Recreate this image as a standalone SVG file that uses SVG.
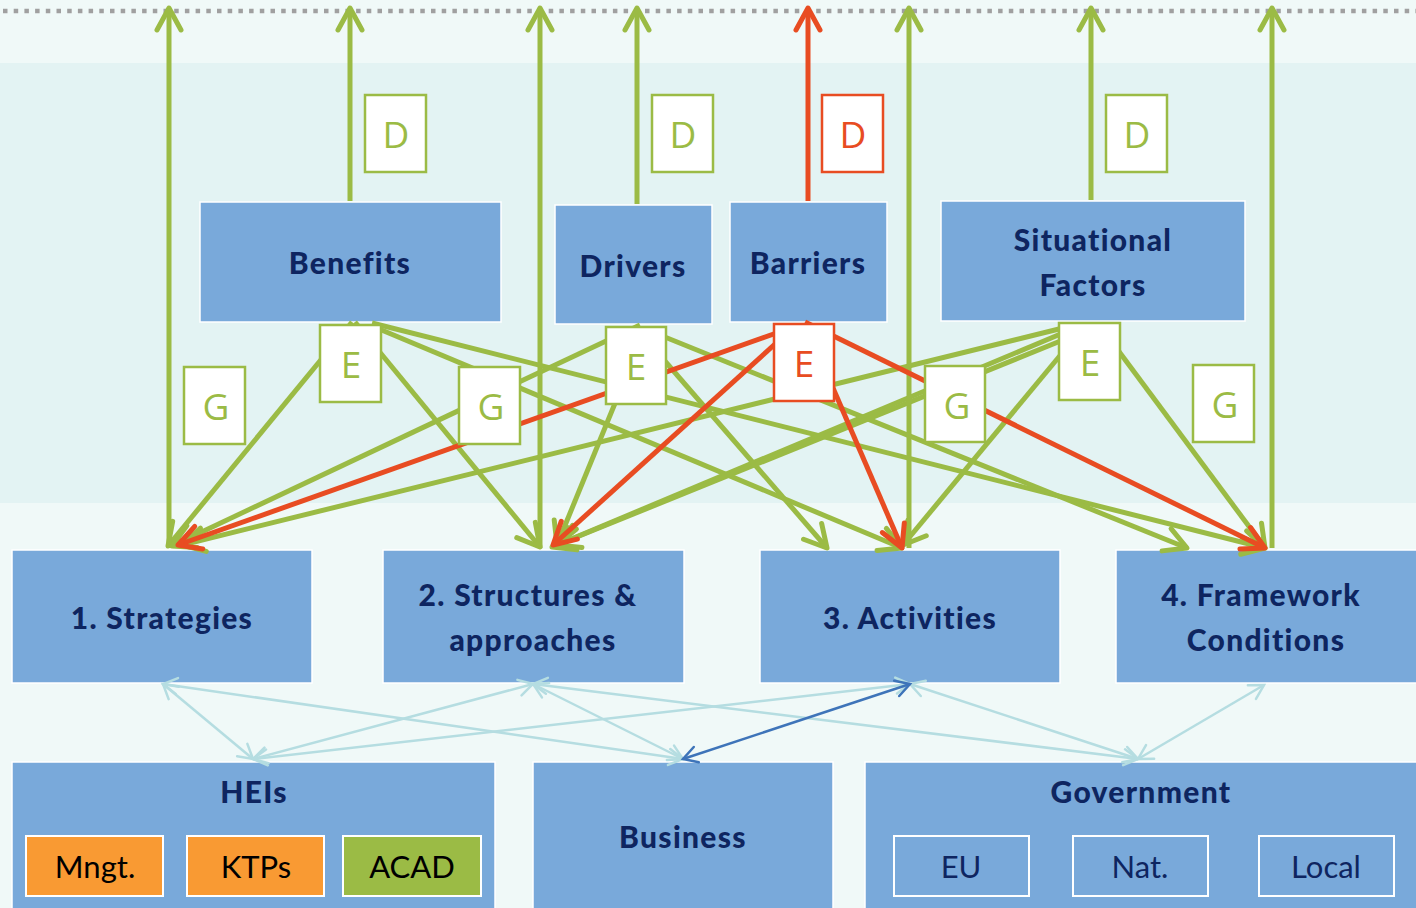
<svg xmlns="http://www.w3.org/2000/svg" width="1416" height="908" viewBox="0 0 1416 908">
<style>
.box{fill:#79a9da;stroke:#ffffff;stroke-width:1.5}
.lbl{font-family:Lato,"Open Sans","Liberation Sans",sans-serif;font-weight:900;font-size:30px;fill:#0e2560;text-anchor:middle;letter-spacing:1.3px}
.ltr{font-family:"Open Sans","Liberation Sans",sans-serif;font-size:37px;text-anchor:middle}
.lg{fill:#fff;stroke:#9bbb45;stroke-width:2.5}
.lr{fill:#fff;stroke:#e84c22;stroke-width:2.5}
.tg{fill:#9bbb45}
.tr{fill:#e84c22}
.sub{font-family:Lato,"Open Sans","Liberation Sans",sans-serif;font-size:31px;text-anchor:middle}
.g{stroke:#9bbb45;stroke-width:5;fill:none;marker-end:url(#mg)}
.r{stroke:#e84c22;stroke-width:5;fill:none;marker-end:url(#mr)}
.b{stroke:#b5dde1;stroke-width:2.5;fill:none;marker-end:url(#mb);marker-start:url(#mb)}
.d{stroke:#3e74b9;stroke-width:2.5;fill:none;marker-end:url(#md);marker-start:url(#md)}
</style>
<defs>
<marker id="mg" markerUnits="userSpaceOnUse" viewBox="-30 -20 40 40" markerWidth="40" markerHeight="40" refX="0" refY="0" orient="auto" overflow="visible"><path d="M-22,-12 L0,0 L-22,12" fill="none" stroke="#9bbb45" stroke-width="5" stroke-linecap="round" stroke-linejoin="round"/></marker>
<marker id="mr" markerUnits="userSpaceOnUse" viewBox="-30 -20 40 40" markerWidth="40" markerHeight="40" refX="0" refY="0" orient="auto" overflow="visible"><path d="M-22,-12 L0,0 L-22,12" fill="none" stroke="#e84c22" stroke-width="5" stroke-linecap="round" stroke-linejoin="round"/></marker>
<marker id="mb" markerUnits="userSpaceOnUse" viewBox="-20 -10 24 20" markerWidth="24" markerHeight="20" refX="0" refY="0" orient="auto-start-reverse" overflow="visible"><path d="M-14,-8 L0,0 L-14,8" fill="none" stroke="#b5dde1" stroke-width="2.5" stroke-linecap="round"/></marker>
<marker id="md" markerUnits="userSpaceOnUse" viewBox="-20 -10 24 20" markerWidth="24" markerHeight="20" refX="0" refY="0" orient="auto-start-reverse" overflow="visible"><path d="M-14,-8 L0,0 L-14,8" fill="none" stroke="#3e74b9" stroke-width="2.5" stroke-linecap="round"/></marker>
</defs>
<rect x="0" y="0" width="1416" height="908" fill="#f0f9f8"/>
<rect x="0" y="63" width="1416" height="440" fill="#e3f3f3"/>
<line x1="3" y1="11" x2="1416" y2="11" stroke="#a0a0a0" stroke-width="4.5" stroke-dasharray="4.5 6.2"/>

<g id="benefits"><rect class="box" x="200" y="202" width="301" height="120"/><text class="lbl" x="350" y="274">Benefits</text></g>
<g id="drivers"><rect class="box" x="555" y="205" width="157" height="119"/><text class="lbl" x="633" y="277">Drivers</text></g>
<g id="barriers"><rect class="box" x="730" y="202" width="157" height="120"/><text class="lbl" x="808" y="274">Barriers</text></g>
<g id="situational"><rect class="box" x="941" y="201" width="304" height="120"/><text class="lbl" x="1093" y="251">Situational</text><text class="lbl" x="1093" y="296">Factors</text></g>
<g id="strategies"><rect class="box" x="12" y="550" width="300" height="133"/><text class="lbl" x="162" y="629">1. Strategies</text></g>
<g id="structures"><rect class="box" x="383" y="550" width="301" height="133"/><text class="lbl" x="528" y="606">2. Structures &amp;</text><text class="lbl" x="533" y="651">approaches</text></g>
<g id="activities"><rect class="box" x="760" y="550" width="300" height="133"/><text class="lbl" x="910" y="629">3. Activities</text></g>
<g id="framework"><rect class="box" x="1116" y="550" width="302" height="133"/><text class="lbl" x="1261" y="606">4. Framework</text><text class="lbl" x="1266" y="651">Conditions</text></g>
<g id="heis"><rect class="box" x="12" y="762" width="483" height="148"/><text class="lbl" x="254" y="803">HEIs</text>
<rect x="26" y="836" width="137" height="60" fill="#f99a33" stroke="#fff" stroke-width="2"/><text class="sub" x="95" y="878" fill="#000">Mngt.</text>
<rect x="187" y="836" width="137" height="60" fill="#f99a33" stroke="#fff" stroke-width="2"/><text class="sub" x="256" y="878" fill="#000">KTPs</text>
<rect x="343" y="836" width="138" height="60" fill="#9bbb45" stroke="#fff" stroke-width="2"/><text class="sub" x="412" y="878" fill="#000">ACAD</text></g>
<g id="business"><rect class="box" x="533" y="762" width="300" height="148"/><text class="lbl" x="683" y="848">Business</text></g>
<g id="government"><rect class="box" x="865" y="762" width="553" height="148"/><text class="lbl" x="1141" y="803">Government</text>
<rect x="894" y="836" width="135" height="60" fill="none" stroke="#fff" stroke-width="2"/><text class="sub" x="961" y="878" fill="#0e2560">EU</text>
<rect x="1073" y="836" width="135" height="60" fill="none" stroke="#fff" stroke-width="2"/><text class="sub" x="1140" y="878" fill="#0e2560">Nat.</text>
<rect x="1259" y="836" width="135" height="60" fill="none" stroke="#fff" stroke-width="2"/><text class="sub" x="1326" y="878" fill="#0e2560">Local</text></g>

<g id="connectors">
<line class="g" x1="169" y1="548" x2="169" y2="8"/>
<line class="g" x1="350" y1="201" x2="350" y2="8"/>
<line class="g" x1="540" y1="548" x2="540" y2="8"/>
<line class="g" x1="637" y1="204" x2="637" y2="8"/>
<line class="r" x1="808" y1="201" x2="808" y2="8"/>
<line class="g" x1="909" y1="548" x2="909" y2="8"/>
<line class="g" x1="1091" y1="200" x2="1091" y2="8"/>
<line class="g" x1="1272" y1="548" x2="1272" y2="8"/>

<line class="g" x1="352" y1="322" x2="168" y2="546"/>
<line class="g" x1="355" y1="322" x2="540" y2="547"/>
<line class="g" x1="372" y1="326" x2="902" y2="548"/>
<line class="g" x1="372" y1="323" x2="1265" y2="548"/>
<line class="g" x1="640" y1="325" x2="172" y2="546"/>
<line class="g" x1="645" y1="330" x2="557" y2="545"/>
<line class="g" x1="638" y1="330" x2="827" y2="548"/>
<line class="g" x1="645" y1="329" x2="1187" y2="548"/>
<line class="g" x1="1063" y1="328" x2="182" y2="545"/>
<line class="g" x1="1063" y1="333" x2="557" y2="545"/>
<line class="g" x1="1063" y1="340" x2="552" y2="547"/>
<line class="g" x1="1063" y1="352" x2="903" y2="545"/>
<line class="g" x1="1103" y1="330" x2="1265" y2="548"/>
<line class="r" x1="785" y1="330" x2="178" y2="545"/>
<line class="r" x1="785" y1="335" x2="553" y2="545"/>
<line class="r" x1="808" y1="330" x2="902" y2="548"/>
<line class="r" x1="805" y1="322" x2="1265" y2="548"/>

<line class="b" x1="163" y1="684" x2="253" y2="759"/>
<line class="b" x1="163" y1="684" x2="683" y2="759"/>
<line class="b" x1="533" y1="684" x2="253" y2="759"/>
<line class="b" x1="533" y1="684" x2="683" y2="759"/>
<line class="b" x1="533" y1="684" x2="1138" y2="759"/>
<line class="b" x1="910" y1="684" x2="253" y2="759"/>
<line class="b" x1="910" y1="684" x2="1138" y2="759"/>
<line class="b" x1="1264" y1="685" x2="1138" y2="759"/>
<line class="d" x1="910" y1="684" x2="683" y2="759"/>
</g>

<g id="labels">
<rect class="lg" x="365" y="95" width="61" height="77"/><text class="ltr tg" x="396" y="148">D</text>
<rect class="lg" x="652" y="95" width="61" height="77"/><text class="ltr tg" x="683" y="148">D</text>
<rect class="lr" x="822" y="95" width="61" height="77"/><text class="ltr tr" x="853" y="148">D</text>
<rect class="lg" x="1106" y="95" width="61" height="77"/><text class="ltr tg" x="1137" y="148">D</text>
<rect class="lg" x="320" y="325" width="61" height="77"/><text class="ltr tg" x="351" y="378">E</text>
<rect class="lg" x="606" y="327" width="60" height="77"/><text class="ltr tg" x="636" y="380">E</text>
<rect class="lr" x="774" y="324" width="60" height="77"/><text class="ltr tr" x="804" y="377">E</text>
<rect class="lg" x="1059" y="323" width="61" height="77"/><text class="ltr tg" x="1090" y="376">E</text>
<rect class="lg" x="184" y="367" width="61" height="77"/><text class="ltr tg" x="216" y="420">G</text>
<rect class="lg" x="459" y="367" width="61" height="77"/><text class="ltr tg" x="491" y="420">G</text>
<rect class="lg" x="925" y="366" width="60" height="76"/><text class="ltr tg" x="957" y="419">G</text>
<rect class="lg" x="1193" y="365" width="61" height="77"/><text class="ltr tg" x="1225" y="418">G</text>
</g>
</svg>
